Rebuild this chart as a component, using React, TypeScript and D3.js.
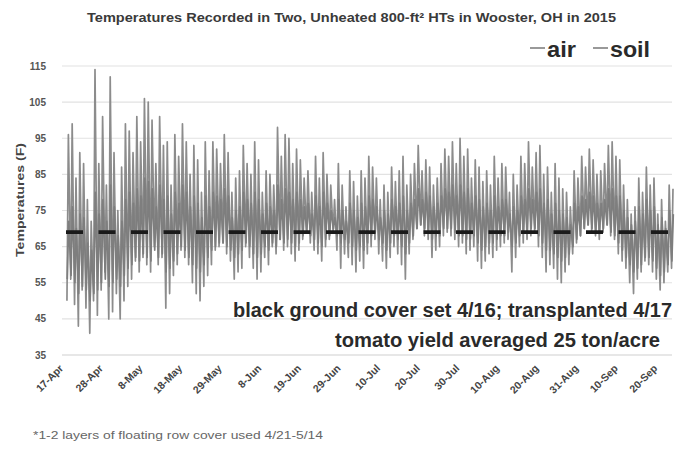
import React from "react";
import * as d3 from "d3";

// ---------- data ----------
const chartTitle = "Temperatures Recorded in Two, Unheated 800-ft² HTs in Wooster, OH in 2015";
const yTitle = "Temperatures (F)";
const footnote = "*1-2 layers of floating row cover used 4/21-5/14";
const noteLine1 = "black ground cover set 4/16; transplanted 4/17";
const noteLine2 = "tomato yield averaged 25 ton/acre";
const seriesNames = ["air", "soil"];

// x tick labels, one every 250 hourly records starting 17-Apr
const xTickLabels = [
  "17-Apr", "28-Apr", "8-May", "18-May", "29-May", "8-Jun", "19-Jun", "29-Jun",
  "10-Jul", "20-Jul", "30-Jul", "10-Aug", "20-Aug", "31-Aug", "10-Sep", "20-Sep",
];
const xTickStepHours = 250;
const yTicks = [35, 45, 55, 65, 75, 85, 95, 105, 115];
const dashedRefF = 69;

// daily air highs / lows (deg F), day 0 = 17-Apr
const airHigh = [
  96, 99, 84, 91, 88, 78, 72, 114, 88, 101,
  82, 112, 91, 75, 87, 99, 97, 91, 101, 94,
  106, 105, 100, 88, 101, 93, 94, 82, 96, 90,
  99, 94, 85, 93, 89, 80, 94, 86, 94, 92,
  88, 96, 91, 80, 84, 86, 93, 88, 85, 94,
  89, 80, 86, 85, 82, 98, 90, 96, 95, 88,
  92, 89, 84, 86, 80, 90, 84, 91, 85, 82,
  78, 88, 82, 76, 86, 83, 79, 86, 84, 90,
  87, 84, 78, 82, 80, 87, 83, 86, 90, 82,
  85, 88, 93, 86, 89, 87, 82, 84, 88, 92,
  90, 94, 88, 95, 90, 92, 84, 89, 87, 83,
  86, 82, 90, 84, 88, 87, 80, 85, 82, 90,
  88, 94, 87, 91, 93, 85, 87, 80, 88, 84,
  81, 80, 76, 86, 84, 90, 87, 92, 89, 85,
  86, 88, 93, 94, 90, 89, 82, 78, 74, 76,
  84, 80, 87, 82, 84, 74, 78, 72, 82, 81,
];
const airLow = [
  50, 56, 49, 43, 53, 48, 41, 50, 46, 53,
  58, 45, 47, 52, 45, 50, 54, 56, 61, 58,
  62, 60, 58, 65, 60, 62, 48, 52, 57, 60,
  64, 62, 60, 55, 52, 50, 54, 57, 60, 64,
  65, 66, 63, 61, 56, 58, 59, 65, 62, 59,
  56, 58, 62, 60, 65, 63, 67, 64, 65, 63,
  61, 64, 67, 69, 66, 64, 63, 61, 65, 67,
  69, 64, 59, 63, 62, 60, 58, 61, 59, 63,
  65, 67, 63, 61, 59, 62, 65, 63, 60, 56,
  63, 67, 70, 71, 68, 67, 62, 64, 65, 68,
  69, 68, 67, 65, 66, 63, 64, 65, 61, 59,
  61, 63, 62, 64, 65, 66, 67, 58, 62, 65,
  66, 67, 68, 69, 65, 62, 58, 60, 59, 56,
  55, 58, 60, 63, 66, 68, 70, 71, 69, 68,
  67, 69, 71, 68, 67, 63, 61, 59, 55, 52,
  56, 58, 61, 60, 58, 56, 53, 55, 58, 59,
];
// daily soil highs / lows (deg F)
const soilHigh = [
  72, 76, 70, 74, 73, 66, 64, 80, 74, 78,
  72, 82, 76, 68, 72, 78, 80, 77, 81, 79,
  84, 83, 81, 76, 82, 78, 79, 74, 80, 77,
  82, 80, 76, 79, 77, 73, 79, 76, 80, 79,
  78, 81, 79, 73, 75, 76, 80, 78, 77, 80,
  78, 74, 77, 76, 75, 82, 78, 81, 80, 78,
  80, 78, 76, 77, 74, 79, 76, 80, 77, 75,
  73, 78, 75, 72, 77, 75, 73, 77, 76, 79,
  78, 76, 73, 75, 74, 78, 76, 77, 79, 75,
  77, 78, 81, 78, 80, 79, 76, 77, 79, 81,
  80, 82, 79, 82, 80, 81, 77, 79, 78, 76,
  77, 75, 79, 76, 78, 78, 74, 76, 75, 79,
  78, 81, 78, 80, 81, 77, 78, 74, 77, 75,
  74, 73, 71, 77, 76, 79, 78, 80, 79, 77,
  77, 78, 81, 81, 79, 79, 75, 73, 71, 72,
  76, 74, 78, 75, 76, 71, 73, 70, 75, 74,
];
const soilLow = [
  56, 57, 55, 52, 54, 53, 50, 52, 53, 55,
  56, 54, 55, 56, 54, 57, 59, 60, 62, 61,
  63, 62, 61, 64, 62, 63, 58, 59, 61, 63,
  65, 64, 62, 60, 59, 58, 60, 62, 64, 65,
  66, 66, 65, 64, 62, 63, 64, 66, 65, 63,
  62, 63, 65, 64, 66, 65, 67, 66, 67, 66,
  65, 66, 68, 69, 68, 67, 66, 65, 67, 68,
  70, 68, 66, 67, 66, 65, 64, 65, 64, 66,
  68, 69, 67, 66, 64, 66, 68, 67, 65, 63,
  66, 68, 70, 71, 70, 69, 67, 68, 68, 70,
  70, 70, 69, 68, 68, 67, 67, 68, 66, 64,
  65, 66, 66, 67, 68, 68, 69, 65, 66, 68,
  69, 69, 70, 70, 68, 66, 64, 64, 63, 62,
  61, 62, 63, 65, 67, 68, 70, 71, 70, 69,
  69, 70, 71, 69, 68, 66, 64, 62, 60, 58,
  59, 60, 62, 62, 61, 59, 57, 58, 60, 61,
];

// ---------- layout ----------
const W = 691;
const H = 450;
const M = { left: 66, right: 676, top: 66, bottom: 355 };

type Pt = { h: number; v: number };
function dailyPoints(lo: number[], hi: number[], loHour: number, hiHour: number): Pt[] {
  const pts: Pt[] = [];
  lo.forEach((l, d) => {
    pts.push({ h: d * 24 + loHour, v: l });
    pts.push({ h: d * 24 + hiHour, v: hi[d] });
  });
  return pts;
}

export default function App() {
  const x = d3.scaleLinear().domain([0, 3850]).range([M.left, M.right]);
  const y = d3.scaleLinear().domain([35, 115]).range([M.bottom, M.top]);
  const line = d3
    .line<Pt>()
    .x((p) => x(p.h))
    .y((p) => y(p.v));

  const airPts = dailyPoints(airLow, airHigh, 6, 15);
  const soilPts = dailyPoints(soilLow, soilHigh, 8, 17);

  const font = "'Liberation Sans', Arial, sans-serif";

  return (
    <svg
      width={W}
      height={H}
      style={{ position: "absolute", left: 0, top: 0, background: "#fff" }}
      fontFamily={font}
    >
      <rect width={W} height={H} fill="#fff" />
      {/* gridlines */}
      {yTicks.map((t) => (
        <line
          key={t}
          x1={M.left - 4}
          x2={M.right - 4}
          y1={y(t)}
          y2={y(t)}
          stroke={t === 35 ? "#cfcfcf" : "#e2e2e2"}
          strokeWidth={1.2}
        />
      ))}
      {/* y tick labels */}
      {yTicks.map((t) => (
        <text
          key={"yl" + t}
          x={46}
          y={y(t)}
          dy="0.35em"
          textAnchor="end"
          fontSize={10}
          fontWeight="bold"
          fill="#555"
        >
          {t}
        </text>
      ))}
      {/* y title */}
      <text
        transform={`translate(24,${200}) rotate(-90)`}
        textAnchor="middle"
        fontSize={11}
        fontWeight="bold"
        fill="#444"
        textLength={114}
        lengthAdjust="spacingAndGlyphs"
      >
        {yTitle}
      </text>
      {/* x tick labels */}
      {xTickLabels.map((lab, i) => {
        const px = x(i * xTickStepHours);
        return (
          <text
            key={lab}
            transform={`translate(${px - 2},${369}) rotate(-45)`}
            textAnchor="end"
            fontSize={10.5}
            fontWeight="bold"
            fill="#444"
          >
            {lab}
          </text>
        );
      })}
      {/* series */}
      <path d={line(airPts) || ""} fill="none" stroke="#8c8c8c" strokeWidth={1.7} strokeLinejoin="round" />
      <path d={line(soilPts) || ""} fill="none" stroke="#7e7e7e" strokeWidth={1.7} strokeLinejoin="round" />
      {/* dashed reference */}
      <line
        x1={x(0)}
        x2={x(3750) + 8}
        y1={y(dashedRefF)}
        y2={y(dashedRefF)}
        stroke="#1a1a1a"
        strokeWidth={3.8}
        strokeDasharray="17 15.5"
      />
      {/* title */}
      <text
        x={87}
        y={22}
        fontSize={13.5}
        fontWeight="bold"
        fill="#3a3a3a"
        textLength={529}
        lengthAdjust="spacingAndGlyphs"
      >
        {chartTitle}
      </text>
      {/* legend */}
      {seriesNames.map((n, i) => {
        const lx = i === 0 ? 530 : 593;
        return (
          <g key={n}>
            <line x1={lx} x2={lx + 15} y1={48} y2={48} stroke="#999" strokeWidth={2} />
            <text
              x={lx + 17}
              y={57}
              fontSize={22}
              fontWeight="bold"
              fill="#2a2a2a"
              textLength={i === 0 ? 29 : 40}
              lengthAdjust="spacingAndGlyphs"
            >
              {n}
            </text>
          </g>
        );
      })}
      {/* annotations */}
      <text
        x={233}
        y={317}
        fontSize={20}
        fontWeight="bold"
        fill="#2a2a2a"
        textLength={439}
        lengthAdjust="spacingAndGlyphs"
      >
        {noteLine1}
      </text>
      <text
        x={335}
        y={347}
        fontSize={20}
        fontWeight="bold"
        fill="#2a2a2a"
        textLength={325}
        lengthAdjust="spacingAndGlyphs"
      >
        {noteLine2}
      </text>
      {/* footnote */}
      <text
        x={33}
        y={439}
        fontSize={11}
        fill="#666"
        textLength={290}
        lengthAdjust="spacingAndGlyphs"
      >
        {footnote}
      </text>
    </svg>
  );
}
